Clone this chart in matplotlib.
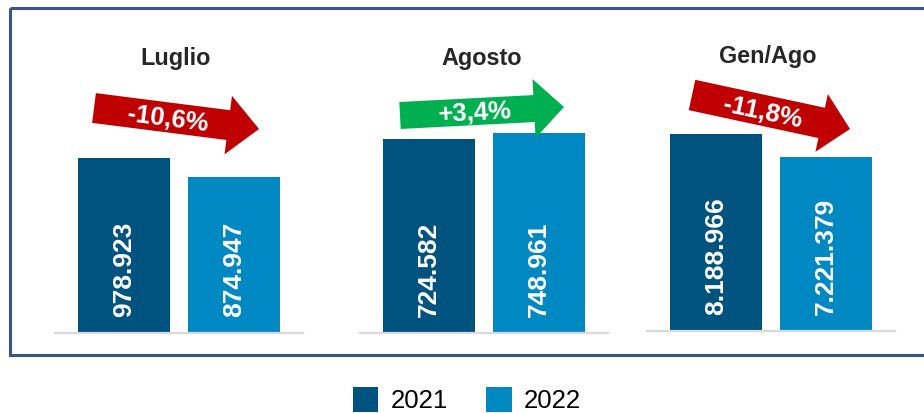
import matplotlib
matplotlib.use('Agg')
import matplotlib.pyplot as plt
from matplotlib.patches import FancyArrow, Rectangle, Patch
from matplotlib.transforms import Affine2D

plt.rcParams['font.family'] = ['Liberation Sans', 'DejaVu Sans']

# data
periods = ['Luglio', 'Agosto', 'Gen/Ago']
years = ['2021', '2022']
v2021 = [978923, 724582, 8188966]
v2022 = [874947, 748961, 7221379]

DARK = '#00527f'
LIGHT = '#0088c2'
RED = '#c00000'
GREEN = '#00b050'

W, H = 924, 413
fig = plt.figure(figsize=(W / 100, H / 100), dpi=100)
# image pixel coords (y down) -> display
px = Affine2D().scale(0.01, -0.01).translate(0, H / 100) + fig.dpi_scale_trans

# panel layout: left edge px, baseline px, y max
panel_left = [55, 360, 647]
panel_base = [333, 333, 331]
panel_ymax = [1.639e6, 1.096e6, 12.09e6]
title_pos = [(176, 65), (482, 65), (768, 63)]
# arrows: tail, tip, shaft width, head width, head length, label pos, label rotation
arrows = [
    ((94, 108), (259, 129), 30, 59, 31, (168, 119), -7.3),
    ((400, 115.5), (564, 107), 27, 59, 30, (475, 113), 3.0),
    ((692, 95), (850, 129), 31, 59, 29, (763, 113), -12.0),
]

def fmt(v):
    return f"{v:,}".replace(',', '.')

for i in range(3):
    base = panel_base[i]
    ax = fig.add_axes([panel_left[i] / W, (H - base) / H, 248 / W, (base - 40) / H])
    vals = [v2021[i], v2022[i]]
    ax.bar([0, 1], vals, width=0.836, color=[DARK, LIGHT], zorder=2)
    ax.set_xlim(-0.625, 1.63)
    ax.set_ylim(0, panel_ymax[i])
    for s in ['top', 'left', 'right']:
        ax.spines[s].set_visible(False)
    ax.spines['bottom'].set_color('#d9d9d9')
    ax.spines['bottom'].set_linewidth(1.6)
    ax.set_xticks([])
    ax.set_yticks([])
    ax.patch.set_alpha(0)
    for j, v in enumerate(vals):
        ax.annotate(fmt(v), (j, 0), xytext=(0, 11.5), textcoords='offset points',
                    rotation=90, ha='center', va='bottom', color='white',
                    fontsize=19, fontweight='bold')

    tx, ty = title_pos[i]
    fig.text(tx, ty, periods[i], transform=px, ha='center', va='baseline',
             fontsize=16.8, fontweight='bold', color='#262626')

    pct = (v2022[i] / v2021[i] - 1) * 100
    pct_txt = f"{pct:+.1f}%".replace('.', ',')
    (x0, y0), (x1, y1), sw, hw, hl, (lx, ly), rot = arrows[i]
    col = GREEN if pct > 0 else RED
    arr = FancyArrow(x0, y0, x1 - x0, y1 - y0, width=sw, head_width=hw, head_length=hl,
                     length_includes_head=True, color=col, lw=0, transform=px)
    fig.add_artist(arr)
    fig.text(lx, ly, pct_txt, transform=px, ha='center', va='center', rotation=rot,
             rotation_mode='anchor', fontsize=18.5, fontweight='bold', color='white')

# outer border
fig.add_artist(Rectangle((10, 8), 930, 347, fill=False, edgecolor='#3b528a',
                         linewidth=2.2, transform=px))

handles = [Patch(facecolor=DARK), Patch(facecolor=LIGHT)]
fig.legend(handles, years, loc='center', bbox_to_anchor=(467 / W, (H - 400) / H),
           ncol=2, frameon=False, fontsize=18.5, handlelength=1.0, handleheight=1.1,
           handletextpad=0.47, columnspacing=1.5, borderpad=0, borderaxespad=0)

fig.savefig('out.png', dpi=100)
